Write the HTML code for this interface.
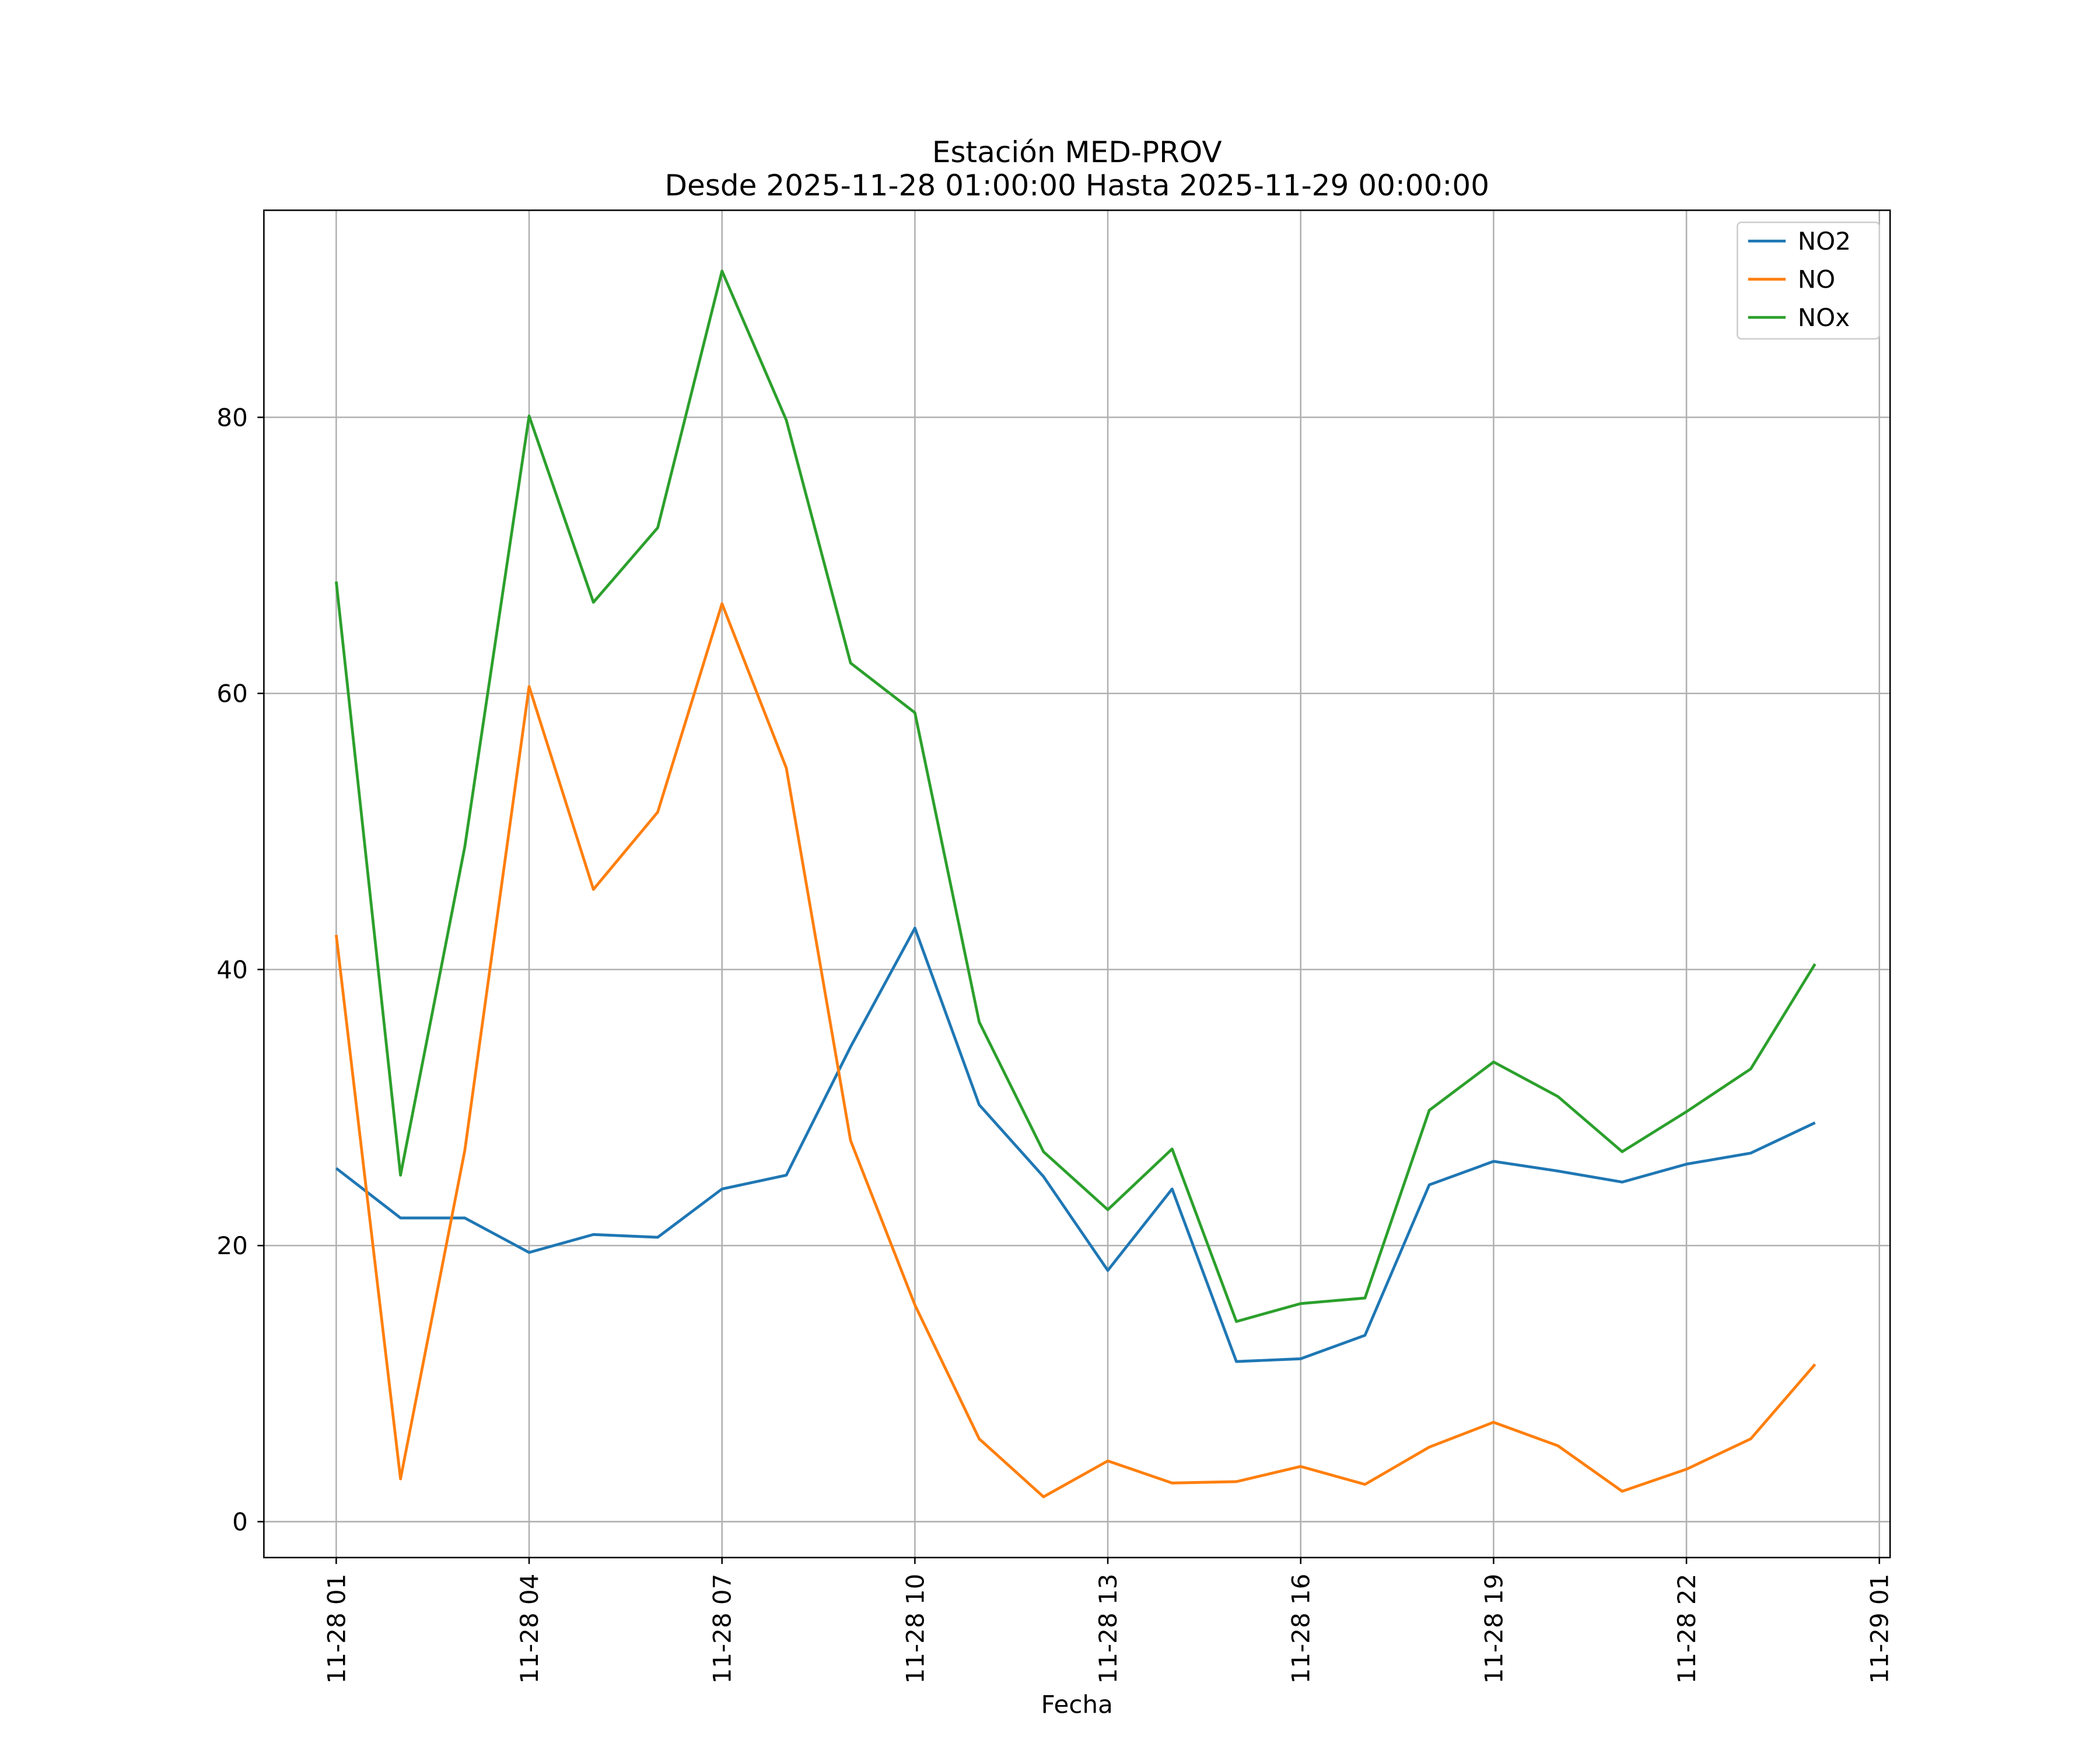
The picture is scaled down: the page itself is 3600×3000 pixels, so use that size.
<!DOCTYPE html>
<html><head><meta charset="utf-8"><style>
html,body{margin:0;padding:0;background:#fff;}
svg{display:block;font-family:"DejaVu Sans","Liberation Sans",sans-serif;}
</style></head><body>
<svg id="chart" width="3600" height="3000" viewBox="0 0 1567.7 1306.7" preserveAspectRatio="none" xmlns="http://www.w3.org/2000/svg">
<rect width="1600" height="1320" fill="#fff"/>
<g id="grid"></g>
<g id="series"></g>
<rect x="197" y="157" width="1214" height="1006" fill="none" stroke="#000" stroke-width="1.1"/>
<g id="axes"></g>
<text x="804" y="121" font-size="21.8" text-anchor="middle">Estación MED-PROV</text>
<text x="804" y="146" font-size="21.8" text-anchor="middle">Desde 2025-11-28 01:00:00 Hasta 2025-11-29 00:00:00</text>
<text x="804" y="1279" font-size="18.3" text-anchor="middle">Fecha</text>
<g id="legend"></g>
</svg>
<script>
const hours = [0,1,2,3,4,5,6,7,8,9,10,11,12,13,14,15,16,17,18,19,20,21,22,23];
const no2 = [25.6,22.0,22.0,19.5,20.8,20.6,24.1,25.1,34.4,43.0,30.2,25.0,18.2,24.1,11.6,11.8,13.5,24.4,26.1,25.4,24.6,25.9,26.7,28.9];
const no = [42.5,3.1,26.9,60.5,45.8,51.4,66.5,54.6,27.6,15.7,6.0,1.8,4.4,2.8,2.9,4.0,2.7,5.4,7.2,5.5,2.2,3.8,6.0,11.4];
const nox = [68.1,25.1,48.9,80.1,66.6,72.0,90.6,79.8,62.2,58.6,36.2,26.8,22.6,27.0,14.5,15.8,16.2,29.8,33.3,30.8,26.8,29.7,32.8,40.4];
const yTicks = [0,20,40,60,80];
const xTickHours = [0,3,6,9,12,15,18,21,24];
const xTickLabels = ["11-28 01","11-28 04","11-28 07","11-28 10","11-28 13","11-28 16","11-28 19","11-28 22","11-29 01"];
const seriesNames = ["NO2","NO","NOx"];
const seriesColors = ["#1f77b4","#ff7f0e","#2ca02c"];

const L=197,R=1411,T=157,B=1163;
const xMin=-1.125,xMax=24.167,yMin=-2.6,yMax=95.0;
const X=h=>L+(h-xMin)/(xMax-xMin)*(R-L);
const Y=v=>B-(v-yMin)/(yMax-yMin)*(B-T);
const NS="http://www.w3.org/2000/svg";
function mk(tag,attrs,parent){const e=document.createElementNS(NS,tag);for(const k in attrs)e.setAttribute(k,attrs[k]);parent.appendChild(e);return e;}
const grid=document.getElementById('grid'),axes=document.getElementById('axes'),ser=document.getElementById('series'),leg=document.getElementById('legend');

yTicks.forEach(v=>{
  const g=mk('line',{x1:L,x2:R,y1:Y(v),y2:Y(v),stroke:'#b0b0b0','stroke-width':1.1},grid);
  
  
  const t=mk('line',{x1:L-4.8,x2:L,y1:Y(v),y2:Y(v),stroke:'#000','stroke-width':1.1},axes);
  
  
  const tx=mk('text',{x:L-12,y:Y(v)+6.5,'font-size':18.3,'text-anchor':'end'},axes);
  tx.textContent=String(v);
  
  
});
xTickHours.forEach((h,i)=>{
  const x=X(h);
  const g=mk('line',{x1:x,x2:x,y1:T,y2:B,stroke:'#b0b0b0','stroke-width':1.1},grid);
  
  
  const t=mk('line',{x1:x,x2:x,y1:B,y2:B+4.8,stroke:'#000','stroke-width':1.1},axes);
  
  
  const tx=mk('text',{x:0,y:0,'font-size':18.3,'text-anchor':'end',transform:`translate(${x+6.5},${B+12}) rotate(-90)`},axes);
  tx.textContent=xTickLabels[i];
  
  
});
[no2,no,nox].forEach((arr,si)=>{
  const p=mk('polyline',{points:arr.map((v,i)=>X(hours[i])+','+Y(v)).join(' '),fill:'none',stroke:seriesColors[si],'stroke-width':2.1,'stroke-linejoin':'round'},ser);
  
  
});
const box=mk('rect',{x:1297,y:166,width:106,height:87,rx:3,fill:'#fff','fill-opacity':0.8,stroke:'#ccc','stroke-width':1.1},leg);


seriesNames.forEach((n,i)=>{
  const y=180+i*28.5;
  const l=mk('line',{x1:1305,x2:1333,y1:y,y2:y,stroke:seriesColors[i],'stroke-width':2.1},leg);
  
  
  const t=mk('text',{x:1342,y:y+6.5,'font-size':18.3},leg);
  t.textContent=n;
  
  
});
</script>
</body></html>
